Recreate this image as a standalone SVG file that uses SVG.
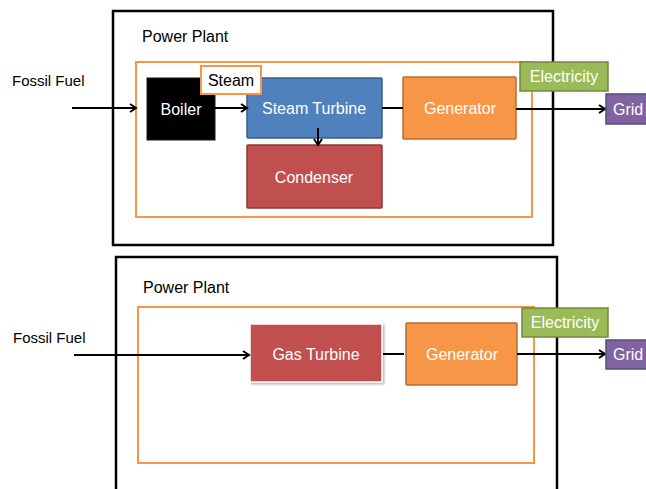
<svg xmlns="http://www.w3.org/2000/svg" width="646" height="489" viewBox="0 0 646 489">
  <style>
    text { font-family: "Liberation Sans", Arial, sans-serif; font-size: 16px; }
    .lbl { fill: #000; }
    .in { fill: #fff; text-anchor: middle; dominant-baseline: central; }
    .plant { fill: none; stroke: #000; stroke-width: 2.5; }
    .zone { fill: none; stroke: #F79646; stroke-width: 2; }
    .conn { stroke: #000; stroke-width: 2; fill: none; }
    .boiler { fill: #000; stroke: #1a1a1a; stroke-width: 1; }
    .turbine { fill: #4F81BD; stroke: #385D8A; stroke-width: 1.5; }
    .cond { fill: #C0504D; stroke: #8C3836; stroke-width: 1.5; }
    .gen { fill: #F79646; stroke: #B66D31; stroke-width: 1.5; }
    .elec { fill: #9BBB59; stroke: #71893F; stroke-width: 1.5; }
    .grid { fill: #8064A2; stroke: #5C4776; stroke-width: 1.5; }
    .steam { fill: #fff; stroke: #F79646; stroke-width: 2; }
  </style>
  <defs>
    <marker id="arrow" markerWidth="10" markerHeight="10" refX="8" refY="5" orient="auto" markerUnits="userSpaceOnUse">
      <path d="M2,1 L8,5 L2,9" fill="none" stroke="#000" stroke-width="2"/>
    </marker>
    <filter id="shadow" x="-10%" y="-10%" width="130%" height="130%">
      <feDropShadow dx="1.5" dy="1.5" stdDeviation="1.2" flood-color="#000" flood-opacity="0.3"/>
    </filter>
  </defs>

  <!-- Steam power plant -->
  <g id="plant-steam">
    <rect class="plant" x="113" y="11" width="440" height="234"/>
    <text class="lbl" x="142" y="42">Power Plant</text>
    <rect class="zone" x="136" y="62" width="396" height="155"/>
  </g>
  <g id="fuel-1"><text class="lbl" x="12" y="86" style="font-size:15px">Fossil Fuel</text></g>
  <g id="boiler">
    <rect class="boiler" x="147" y="78" width="68" height="62"/>
    <text class="in" x="181" y="109">Boiler</text>
  </g>
  <g id="steam-turbine">
    <rect class="turbine" x="247" y="78" width="135" height="60" rx="1"/>
    <text class="in" x="314" y="108">Steam Turbine</text>
  </g>
  <g id="steam">
    <rect class="steam" x="201" y="66" width="60" height="28"/>
    <text class="lbl" x="231" y="80" text-anchor="middle" dominant-baseline="central">Steam</text>
  </g>
  <g id="condenser">
    <rect class="cond" x="247" y="145" width="135" height="63" rx="1"/>
    <text class="in" x="314" y="177">Condenser</text>
  </g>
  <g id="generator-1">
    <rect class="gen" x="403" y="77" width="113" height="62" rx="1"/>
    <text class="in" x="460" y="108">Generator</text>
  </g>

  <!-- Gas power plant -->
  <g id="plant-gas">
    <rect class="plant" x="116" y="257" width="441" height="240"/>
    <text class="lbl" x="143" y="293">Power Plant</text>
    <rect class="zone" x="138" y="307" width="396" height="156"/>
  </g>
  <g id="fuel-2"><text class="lbl" x="13" y="343" style="font-size:15px">Fossil Fuel</text></g>
  <g id="gas-turbine">
    <rect x="250" y="324" width="132" height="58" fill="#C0504D" stroke="#fff" stroke-width="1.5" filter="url(#shadow)"/>
    <text class="in" x="316" y="354">Gas Turbine</text>
  </g>
  <g id="generator-2">
    <rect class="gen" x="406" y="323" width="111" height="62" rx="1"/>
    <text class="in" x="462" y="354">Generator</text>
  </g>

  <g id="connectors">
    <line class="conn" x1="72" y1="108" x2="136" y2="108" marker-end="url(#arrow)"/>
    <line class="conn" x1="215" y1="108" x2="247" y2="108" marker-end="url(#arrow)"/>
    <line class="conn" x1="318" y1="128" x2="318" y2="145" marker-end="url(#arrow)"/>
    <line class="conn" x1="382" y1="108" x2="403" y2="108"/>
    <line class="conn" x1="516" y1="109" x2="605" y2="109" marker-end="url(#arrow)"/>
    <line class="conn" x1="74" y1="355" x2="249" y2="355" marker-end="url(#arrow)"/>
    <line class="conn" x1="383" y1="354" x2="404" y2="354"/>
    <line class="conn" x1="517" y1="354" x2="605" y2="354" marker-end="url(#arrow)"/>
  </g>

  <g id="electricity-1">
    <rect class="elec" x="520" y="62" width="88" height="29"/>
    <text class="in" x="564" y="76">Electricity</text>
  </g>
  <g id="grid-1">
    <rect class="grid" x="606" y="94" width="44" height="30"/>
    <text class="lbl" x="613" y="115" fill="#fff" style="fill:#fff">Grid</text>
  </g>
  <g id="electricity-2">
    <rect class="elec" x="522" y="308" width="86" height="29"/>
    <text class="in" x="565" y="322">Electricity</text>
  </g>
  <g id="grid-2">
    <rect class="grid" x="606" y="340" width="44" height="29"/>
    <text class="lbl" x="613" y="360" style="fill:#fff">Grid</text>
  </g>
</svg>
